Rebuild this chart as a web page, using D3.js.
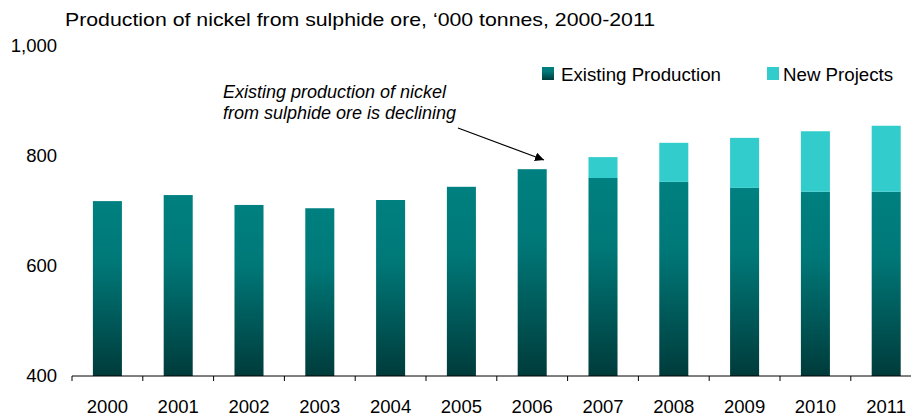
<!DOCTYPE html>
<html>
<head>
<meta charset="utf-8">
<script src="https://cdn.jsdelivr.net/npm/d3@7"></script>
<style>
  html, body { margin: 0; padding: 0; background: #ffffff; }
  svg { display: block; }
  text { font-family: "Liberation Sans", Arial, sans-serif; fill: #000; }
</style>
</head>
<body>
<svg id="chart" width="911" height="416"></svg>
<script>
// Nickel production from sulphide ore, '000 tonnes
const years = ["2000","2001","2002","2003","2004","2005","2006","2007","2008","2009","2010","2011"];
const existingProduction = [718, 729, 711, 705, 720, 744, 776, 760, 753, 742, 735, 735];
const newProjects        = [0,   0,   0,   0,   0,   0,   0,   38,  71,  91,  110, 120];
const yTicks = [400, 600, 800, 1000];
const seriesNames = ["Existing Production", "New Projects"];

const svg = d3.select("#chart");

const x = d3.scaleBand()
  .domain(years)
  .range([72, 921.6])
  .paddingInner(0.59)
  .paddingOuter(0.295);

const y = d3.scaleLinear().domain([400, 1000]).range([376, 46]);

// gradient for the existing-production bars (teal fading to dark teal)
const defs = svg.append("defs");
const grad = defs.append("linearGradient")
  .attr("id", "existingGrad")
  .attr("x1", 0).attr("y1", 0).attr("x2", 0).attr("y2", 1);
grad.append("stop").attr("offset", "0%").attr("stop-color", "#008080");
grad.append("stop").attr("offset", "35%").attr("stop-color", "#007878");
grad.append("stop").attr("offset", "100%").attr("stop-color", "#003b3b");

const NEW_COLOR = "#33CCCC";

// title
svg.append("text")
  .attr("x", 65).attr("y", 26)
  .attr("textLength", 590)
  .attr("lengthAdjust", "spacingAndGlyphs")
  .style("font-size", "19px")
  .text("Production of nickel from sulphide ore, \u2018000 tonnes, 2000-2011");

// y axis labels only
const yAxis = d3.axisLeft(y)
  .tickValues(yTicks)
  .tickFormat(d3.format(","))
  .tickSize(0)
  .tickPadding(0);
const gy = svg.append("g").attr("transform", "translate(57,0)").call(yAxis);
gy.select(".domain").remove();
gy.selectAll("text")
  .style("font-size", "18.5px")
  .style("font-family", "'Liberation Sans', Arial, sans-serif")
  .attr("fill", "#000");

// bars
const rows = years.map((yr, i) => ({ year: yr, existing: existingProduction[i], extra: newProjects[i] }));

svg.append("g").selectAll("rect.existing")
  .data(rows).join("rect")
  .attr("class", "existing")
  .attr("x", d => x(d.year))
  .attr("width", x.bandwidth())
  .attr("y", d => y(d.existing))
  .attr("height", d => y(400) - y(d.existing))
  .attr("fill", "url(#existingGrad)");

svg.append("g").selectAll("rect.extra")
  .data(rows.filter(d => d.extra > 0)).join("rect")
  .attr("class", "extra")
  .attr("x", d => x(d.year))
  .attr("width", x.bandwidth())
  .attr("y", d => y(d.existing + d.extra))
  .attr("height", d => y(d.existing) - y(d.existing + d.extra))
  .attr("fill", NEW_COLOR);

// x axis: baseline, boundary ticks and year labels
const gx = svg.append("g");
const x0 = x.range()[0], x1 = x.range()[1], step = x.step();
gx.append("line")
  .attr("x1", x0).attr("x2", x1)
  .attr("y1", y(400)).attr("y2", y(400))
  .attr("stroke", "#000").attr("stroke-width", 1);
gx.selectAll("line.tick")
  .data(d3.range(years.length + 1)).join("line")
  .attr("class", "tick")
  .attr("x1", i => x0 + i * step).attr("x2", i => x0 + i * step)
  .attr("y1", y(400)).attr("y2", y(400) + 5)
  .attr("stroke", "#000").attr("stroke-width", 1);
gx.selectAll("text.year")
  .data(years).join("text")
  .attr("class", "year")
  .attr("x", d => x(d) + x.bandwidth() / 2)
  .attr("y", 413)
  .attr("text-anchor", "middle")
  .style("font-size", "18.5px")
  .text(d => d);

// legend
const legendItems = [
  { name: seriesNames[0], fill: "url(#existingGrad)", sx: 542, tx: 561 },
  { name: seriesNames[1], fill: NEW_COLOR, sx: 767, tx: 783 }
];
const lg = svg.append("g");
lg.selectAll("rect").data(legendItems).join("rect")
  .attr("x", d => d.sx).attr("y", 67)
  .attr("width", 12).attr("height", 13)
  .attr("fill", d => d.fill);
lg.selectAll("text").data(legendItems).join("text")
  .attr("x", d => d.tx).attr("y", 81)
  .style("font-size", "18.7px")
  .text(d => d.name);

// annotation
const note = svg.append("text")
  .attr("x", 223).attr("y", 98)
  .style("font-size", "18px")
  .style("font-style", "italic");
note.append("tspan").attr("x", 223).attr("dy", 0).text("Existing production of nickel");
note.append("tspan").attr("x", 223).attr("dy", 21).text("from sulphide ore is declining");

defs.append("marker")
  .attr("id", "arrowHead")
  .attr("viewBox", "0 0 10 10")
  .attr("refX", 10).attr("refY", 5)
  .attr("markerWidth", 9).attr("markerHeight", 9)
  .attr("markerUnits", "userSpaceOnUse")
  .attr("orient", "auto")
  .append("path").attr("d", "M0,0 L10,5 L0,10 Z").attr("fill", "#000");

svg.append("line")
  .attr("x1", 458).attr("y1", 128)
  .attr("x2", 544).attr("y2", 160)
  .attr("stroke", "#000").attr("stroke-width", 1.2)
  .attr("marker-end", "url(#arrowHead)");
</script>
</body>
</html>
